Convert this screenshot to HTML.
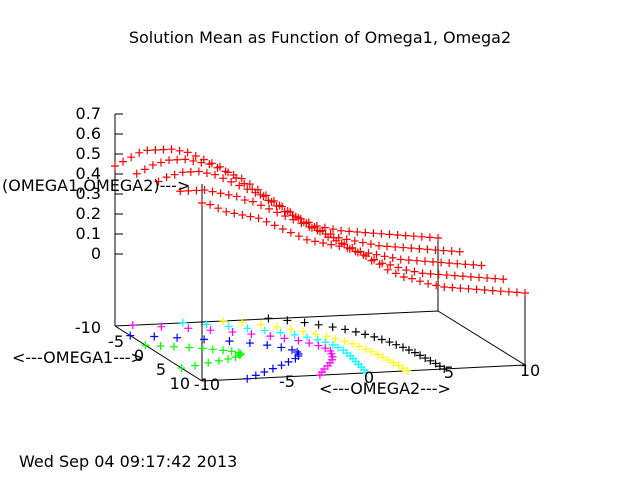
<!DOCTYPE html>
<html><head><meta charset="utf-8"><style>
body{margin:0;background:#fff}
svg text{font-family:"DejaVu Sans","Liberation Sans",sans-serif;font-size:16px;fill:#000}
</style></head><body>
<svg id="chart" width="640" height="480">
<rect width="640" height="480" fill="#fff"/>
<text x="320" y="43" text-anchor="middle">Solution Mean as Function of Omega1, Omega2</text>
<g id="axes" stroke="#000" stroke-width="1" fill="none">
<polyline points="115,326 202,381 525,365 438,311 115,326"/>
<line x1="115" y1="326" x2="115" y2="114"/>
<line x1="202" y1="381" x2="202" y2="184"/>
<line x1="438" y1="311" x2="438" y2="240"/>
<line x1="525" y1="365" x2="525" y2="296"/>
</g>
<g id="zticks"></g>
<g id="base"></g>
<g id="surf"></g>
<text x="101" y="333" text-anchor="end">-10</text>
<text x="124" y="347" text-anchor="end">-5</text>
<text x="144" y="361" text-anchor="end">0</text>
<text x="166" y="375" text-anchor="end">5</text>
<text x="190" y="389" text-anchor="end">10</text>
<text x="12" y="363">&lt;---OMEGA1---&gt;</text>
<text x="207" y="390" text-anchor="middle">-10</text>
<text x="287" y="387" text-anchor="middle">-5</text>
<text x="369" y="383" text-anchor="middle">0</text>
<text x="449" y="378" text-anchor="middle">5</text>
<text x="530" y="376" text-anchor="middle">10</text>
<text x="385" y="394" text-anchor="middle">&lt;---OMEGA2---&gt;</text>
<text x="2" y="191">(OMEGA1,OMEGA2)---&gt;</text>
<text x="19" y="467">Wed Sep 04 09:17:42 2013</text>
</svg>
<script>
const zTicks=[0,0.1,0.2,0.3,0.4,0.5,0.6,0.7];
const zTickLabels=["0","0.1","0.2","0.3","0.4","0.5","0.6","0.7"];
const omega1Rows=[-10,-5,0,5,10];
const omega2Vals=[-10,-9.5,-9,-8.5,-8,-7.5,-7,-6.5,-6,-5.5,-5,-4.5,-4,-3.5,-3,-2.5,-2,-1.5,-1,-0.5,0,0.5,1,1.5,2,2.5,3,3.5,4,4.5,5,5.5,6,6.5,7,7.5,8,8.5,9,9.5,10];
const zRowNeg10=[0.44,0.46,0.48,0.50,0.51,0.51,0.51,0.51,0.50,0.49,0.47,0.45,0.43,0.41,0.38,0.35,0.32,0.29,0.26,0.23,0.20,0.17,0.15,0.13,0.11,0.09,0.08,0.07,0.06,0.055,0.05,0.045,0.04,0.035,0.03,0.025,0.02,0.015,0.01,0.005,0.00];
const zRowNeg5=[0.47,0.49,0.51,0.52,0.53,0.53,0.53,0.52,0.51,0.50,0.48,0.46,0.44,0.42,0.39,0.36,0.33,0.30,0.27,0.24,0.21,0.18,0.16,0.14,0.12,0.10,0.09,0.08,0.07,0.06,0.05,0.045,0.04,0.035,0.03,0.025,0.02,0.015,0.01,0.005,0.00];
const zRow0=[0.50,0.52,0.53,0.54,0.54,0.54,0.53,0.52,0.50,0.48,0.46,0.44,0.42,0.40,0.37,0.35,0.32,0.29,0.26,0.23,0.21,0.18,0.16,0.14,0.12,0.10,0.09,0.08,0.07,0.06,0.05,0.045,0.04,0.035,0.03,0.025,0.02,0.015,0.01,0.005,0.00];
const zRow5=[0.52,0.52,0.52,0.52,0.51,0.50,0.49,0.48,0.46,0.45,0.43,0.41,0.39,0.37,0.35,0.33,0.31,0.29,0.27,0.25,0.22,0.19,0.17,0.15,0.13,0.11,0.10,0.085,0.07,0.06,0.05,0.045,0.04,0.035,0.03,0.025,0.02,0.015,0.01,0.005,0.00];
const zRow10=[0.53,0.52,0.50,0.48,0.47,0.46,0.45,0.44,0.42,0.40,0.38,0.36,0.34,0.32,0.31,0.30,0.29,0.28,0.27,0.25,0.23,0.20,0.18,0.15,0.13,0.11,0.10,0.085,0.07,0.06,0.05,0.045,0.04,0.035,0.03,0.025,0.02,0.015,0.01,0.005,0.00];
const contourColors=["#000000","#ffff00","#00ffff","#ff00ff","#0000ff","#00ff00"];
const blackO1=[-10,-9,-8,-7,-6,-5,-4,-3,-2,-1,0,1,2,3,4,5,6,7,8,9,10];
const blackO2=[-0.5,0.4,1.2,1.8,2.4,2.9,3.3,3.6,3.9,4.1,4.3,4.45,4.6,4.7,4.8,4.85,4.9,4.95,5.0,5.0,5.0];
const yellowO1=[-10,-9,-8,-7,-6,-5,-4,-3,-2,-1,0,1,2,3,4,5,6,7,8,9,10];
const yellowO2=[-3.3,-2.4,-1.5,-0.8,-0.2,0.3,0.8,1.2,1.5,1.8,2.0,2.15,2.3,2.4,2.5,2.55,2.6,2.65,2.7,2.7,2.7];
const cyanO1=[-10,-9,-8,-7,-6,-5,-4,-3,-2,-1,0,1,2,3,4,5,6,7,8,9,10];
const cyanO2=[-5.8,-4.6,-3.5,-2.6,-1.8,-1.1,-0.5,0.0,0.4,0.6,0.8,0.85,0.9,0.85,0.8,0.7,0.6,0.5,0.4,0.3,0.2];
const magentaO1=[-10,-9,-8,-7,-6,-5,-4,-3,-2,-1,0,1,2,3,4,5,6,7,8,9,10];
const magentaO2=[-8.9,-7.4,-6,-4.9,-3.8,-2.9,-2.0,-1.4,-0.8,-0.4,-0.1,0.05,0.1,-0.1,-0.3,-0.6,-1.0,-1.4,-1.9,-2.3,-2.7];
const blueO1=[-6.5,-5.8,-5,-4,-3,-2,-1,0,1,1.8,2.5,3.2,4,5,6,7,8,9,10];
const blueO2=[-10,-8.7,-7.5,-6.1,-4.8,-3.8,-3.0,-2.4,-2.0,-1.9,-2.0,-2.2,-2.6,-3.3,-4.0,-4.8,-5.6,-6.4,-7.2];
const greenO1=[-3,-2.5,-2,-1.5,-1,-0.5,0,0.5,1,1.5,2,2.5,3,3.5,4,4.7,5.3];
const greenO2=[-10,-9.2,-8.5,-7.7,-7,-6.5,-6,-5.6,-5.3,-5.3,-5.5,-5.9,-6.5,-7.2,-8,-9,-10];

const NS="http://www.w3.org/2000/svg";
const ZBASE=-0.36, ZSCALE=200;
function proj(o1,o2,z){
  const a=(o1+10)/20,b=(o2+10)/20;
  return [115+a*87+b*323, 326+a*55-b*16-(z-ZBASE)*ZSCALE];
}
function plus(g,x,y,c){
  const p=document.createElementNS(NS,"path");
  p.setAttribute("d",`M${x-4},${y}H${x+4}M${x},${y-4}V${y+4}`);
  p.setAttribute("stroke",c);p.setAttribute("stroke-width","1.2");
  
  
  g.appendChild(p);
}
const zt=document.getElementById("zticks");
zTicks.forEach((v,i)=>{
  const y=proj(-10,-10,v)[1];
  const l=document.createElementNS(NS,"line");
  l.setAttribute("x1",115);l.setAttribute("x2",123);l.setAttribute("y1",y);l.setAttribute("y2",y);
  l.setAttribute("stroke","#000");
  
  
  zt.appendChild(l);
  const t=document.createElementNS(NS,"text");
  t.setAttribute("x",101);t.setAttribute("y",y+5);t.setAttribute("text-anchor","end");
  t.textContent=zTickLabels[i];
  
  
  zt.appendChild(t);
});
const base=document.getElementById("base");
const contours=[[blackO1,blackO2],[yellowO1,yellowO2],[cyanO1,cyanO2],[magentaO1,magentaO2],[blueO1,blueO2],[greenO1,greenO2]];
contours.forEach((c,ci)=>{
  c[0].forEach((o1,i)=>{const p=proj(o1,c[1][i],ZBASE);plus(base,p[0],p[1],contourColors[ci]);});
});
const surf=document.getElementById("surf");
const rows=[zRowNeg10,zRowNeg5,zRow0,zRow5,zRow10];
rows.forEach((r,ri)=>{
  omega2Vals.forEach((o2,i)=>{const p=proj(omega1Rows[ri],o2,r[i]);plus(surf,p[0],p[1],"#ff0000");});
});
</script>
</body></html>
